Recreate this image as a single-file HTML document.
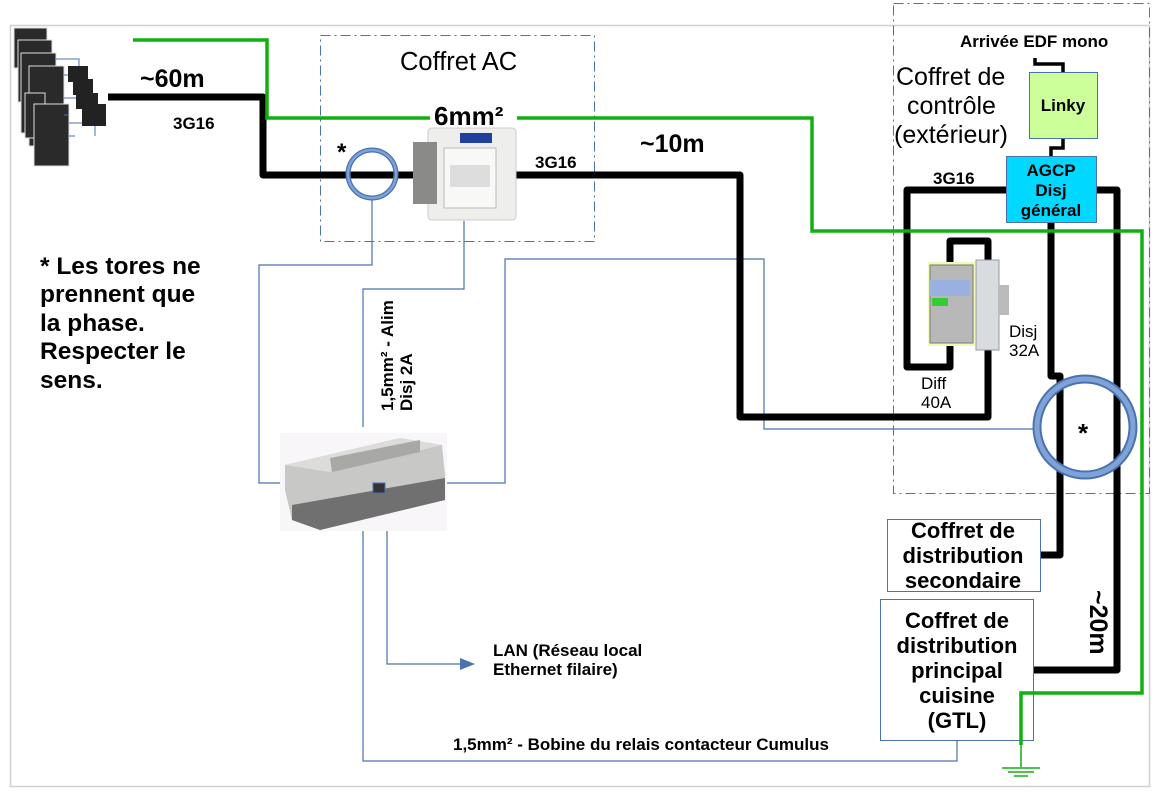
<!DOCTYPE html>
<html><head><meta charset="utf-8"><style>
html,body{margin:0;padding:0;background:#fff}
svg{display:block}
text{font-family:"Liberation Sans",sans-serif}
</style></head><body>
<svg width="1161" height="799" viewBox="0 0 1161 799" xmlns="http://www.w3.org/2000/svg">
<rect x="10.5" y="25.5" width="1139" height="761" fill="none" stroke="#d0d0d0" stroke-width="1.5"/>
<rect x="320.5" y="35.5" width="274" height="206" fill="none" stroke="#4a72b0" stroke-width="1" stroke-dasharray="10,4,2,4"/>
<rect x="893.5" y="3.5" width="256" height="490" fill="none" stroke="#4a72b0" stroke-width="1" stroke-dasharray="10,4,2,4"/>
<g fill="#2a2a2a" stroke="#ddd" stroke-width="1">
<rect x="14" y="28" width="33" height="40"/>
<rect x="18" y="40" width="34" height="62"/>
<rect x="21" y="53" width="35" height="80"/>
<rect x="29" y="66" width="35" height="80"/>
<rect x="25" y="93" width="20" height="45"/>
<rect x="34" y="104" width="35" height="62"/>
</g>
<g fill="none" stroke="#4a72b0" stroke-width="1">
<path d="M56 59H79V66M64 75H86V84M64 98H95V104M64 115H68M69 123H95V136M69 136H75"/>
</g>
<g fill="#222">
<rect x="68" y="66" width="20" height="16"/>
<rect x="73" y="79" width="20" height="16"/>
<rect x="76" y="93" width="22" height="16"/>
<rect x="82" y="104" width="24" height="22"/>
</g>
<g fill="none" stroke="#4a72b0" stroke-width="1.2">
<path d="M372 198V265H259V483H282"/>
<path d="M464 221V289H363V427"/>
<path d="M363 531V761H957V741"/>
<path d="M387 492V664H460"/>
<path d="M447 483H505V259H764V429H1036"/>
</g>
<polygon points="460,658 475,664 460,670" fill="#4a72b0"/>
<g fill="none" stroke="#000" stroke-width="7" stroke-linejoin="round">
<path d="M108 97H263V175H430"/>
<path d="M515 175H740V417H988V350"/>
<path d="M1007 190H907V367H950V345"/>
<path d="M950 262V241H988V262"/>
<path d="M1097 190H1117V670H1033"/>
<path d="M1051 222V376H1060V555H1040"/>
</g>
<g fill="none" stroke="#000" stroke-width="3.5">
<path d="M1035 58V64H1063V72"/>
<path d="M1063 138V148H1051V157"/>
</g>
<circle cx="372" cy="174" r="24" fill="none" stroke="#4a72b0" stroke-width="5"/>
<circle cx="372" cy="174" r="24" fill="none" stroke="#7fa3d6" stroke-width="2.5"/>
<circle cx="1085" cy="427" r="48" fill="none" stroke="#4a72b0" stroke-width="9"/>
<circle cx="1085" cy="427" r="48" fill="none" stroke="#7fa3d6" stroke-width="5"/>
<rect x="428" y="128" width="88" height="92" rx="4" fill="#eeeeec" stroke="#ccc"/>
<rect x="413" y="142" width="24" height="62" fill="#8a8a88"/>
<rect x="444" y="148" width="52" height="60" fill="#f8f8f6" stroke="#bbb"/>
<rect x="450" y="165" width="40" height="22" fill="#ddd"/>
<rect x="460" y="133" width="32" height="10" fill="#2040a0"/>
<rect x="1029.5" y="72.5" width="68" height="66" fill="#ccff99" stroke="#4a72b0"/>
<text x="1063" y="111" font-size="17" font-weight="bold" text-anchor="middle">Linky</text>
<rect x="1006.5" y="156.5" width="90" height="66" fill="#00d8ff" stroke="#4a72b0"/>
<text x="1051" y="176" font-size="17" font-weight="bold" text-anchor="middle">AGCP</text>
<text x="1051" y="196" font-size="17" font-weight="bold" text-anchor="middle">Disj</text>
<text x="1051" y="216" font-size="17" font-weight="bold" text-anchor="middle">général</text>
<rect x="928" y="262" width="47" height="84" fill="#f2f8b8"/>
<rect x="930" y="265" width="43" height="78" fill="#b8b8b8" stroke="#777"/>
<rect x="930" y="280" width="40" height="16" fill="#9ab0e0"/>
<rect x="932" y="298" width="16" height="8" fill="#33cc33"/>
<rect x="976" y="260" width="23" height="90" fill="#d8dce0" stroke="#999"/>
<rect x="999" y="285" width="10" height="30" fill="#bbb"/>
<rect x="280" y="433" width="167" height="98" fill="#f8f6f8"/>
<polygon points="285,465 400,438 442,445 445,475 445,500 320,530 292,520 285,490" fill="#c8c8c6"/>
<polygon points="285,465 400,438 442,445 330,472" fill="#dcdcda"/>
<polygon points="292,505 445,478 445,500 320,530 292,520" fill="#707070"/>
<polygon points="330,458 420,440 420,452 332,472" fill="#a8a8a6"/>
<rect x="373" y="483" width="12" height="10" fill="#333" stroke="#4a72b0"/>
<rect x="887.5" y="519.5" width="153" height="72" fill="#fff" stroke="#4a72b0"/>
<rect x="880.5" y="599.5" width="153" height="141" fill="#fff" stroke="#4a72b0"/>
<path d="M133 40H267V118H430M517 118H812V231H1142V693H1021V745" fill="none" stroke="#11b011" stroke-width="3.5"/>
<path d="M1021 745V767" stroke="#11b011" stroke-width="1.5"/>
<g stroke="#11b011" stroke-width="1.5"><path d="M1002 768H1040M1008 772H1034M1014 776H1028"/></g>
<g font-size="22" font-weight="bold" text-anchor="middle">
<text x="963" y="538">Coffret de</text>
<text x="963" y="563">distribution</text>
<text x="963" y="588">secondaire</text>
</g>
<g font-size="22" font-weight="bold" text-anchor="middle">
<text x="957" y="628">Coffret de</text>
<text x="957" y="653">distribution</text>
<text x="957" y="678">principal</text>
<text x="957" y="703">cuisine</text>
<text x="957" y="728">(GTL)</text>
</g>
<text x="140" y="87" font-size="25" font-weight="bold">~60m</text>
<text x="173" y="129" font-size="17" font-weight="bold">3G16</text>
<text x="400" y="70" font-size="25.5">Coffret AC</text>
<text x="434" y="125" font-size="26" font-weight="bold">6mm²</text>
<text x="337" y="160" font-size="24" font-weight="bold">*</text>
<text x="535" y="168" font-size="17" font-weight="bold">3G16</text>
<text x="640" y="152" font-size="25" font-weight="bold">~10m</text>
<text x="960" y="47" font-size="17" font-weight="bold">Arrivée EDF mono</text>
<text x="896" y="85" font-size="25">Coffret de</text>
<text x="907" y="114" font-size="25">contrôle</text>
<text x="894" y="143" font-size="25">(extérieur)</text>
<text x="933" y="184" font-size="17" font-weight="bold">3G16</text>
<text x="1009" y="337" font-size="17">Disj</text>
<text x="1009" y="356" font-size="17">32A</text>
<text x="921" y="389" font-size="17">Diff</text>
<text x="921" y="408" font-size="17">40A</text>
<text x="1078" y="442" font-size="26" font-weight="bold">*</text>
<g font-size="24.5" font-weight="bold">
<text x="40" y="274">* Les tores ne</text>
<text x="40" y="302">prennent que</text>
<text x="40" y="331">la phase.</text>
<text x="40" y="359">Respecter le</text>
<text x="40" y="388">sens.</text>
</g>
<g font-size="17" font-weight="bold">
<text transform="translate(393,411) rotate(-90)">1,5mm² - Alim</text>
<text transform="translate(412,411) rotate(-90)">Disj 2A</text>
<text x="493" y="656">LAN (Réseau local</text>
<text x="493" y="675">Ethernet filaire)</text>
<text x="453" y="750">1,5mm² - Bobine du relais contacteur Cumulus</text>
</g>
<text transform="translate(1090,590) rotate(90)" font-size="25" font-weight="bold">~20m</text>
</svg>
</body></html>
